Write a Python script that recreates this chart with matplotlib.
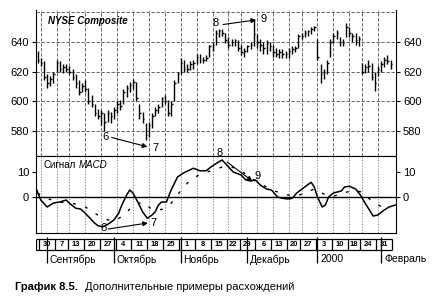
import matplotlib.pyplot as plt

plt.rcParams['font.family'] = ['Liberation Sans', 'DejaVu Sans']

# trading days, position 0 = 27 Aug 1999
high = [634, 629, 627, 618, 617, 620, 628, 627, 625, 625, 624, 622, 618, 614, 612, 614,
        609, 604, 598, 595, 594, 592, 594, 593, 596, 600, 601, 608, 611, 613, 615, 613,
        598, 593, 585, 586, 592, 596, 598, 603, 604, 601, 600, 614, 620, 629, 628, 625,
        627, 628, 632, 632, 630, 631, 638, 640, 648, 649, 649, 646, 643, 642, 642, 641,
        638, 636, 638, 640, 655, 645, 642, 640, 641, 640, 638, 636, 635, 635, 634, 636,
        637, 637, 645, 646, 648, 648, 650, 651, 642, 625, 622, 628, 642, 646, 648, 643,
        642, 653, 650, 646, 646, 644, 626, 625, 628, 626, 620, 624, 627, 630, 631, 628]
low = [626, 624, 614, 609, 610, 612, 620, 620, 619, 620, 618, 614, 609, 604, 606, 606,
       598, 596, 590, 588, 584, 580, 586, 585, 588, 592, 594, 598, 603, 606, 608, 600,
       588, 585, 574, 576, 582, 590, 592, 596, 598, 590, 590, 600, 612, 618, 620, 620,
       621, 622, 625, 626, 626, 627, 630, 634, 638, 643, 644, 639, 636, 637, 637, 634,
       631, 630, 633, 635, 637, 636, 634, 632, 632, 634, 630, 630, 629, 629, 629, 629,
       632, 633, 636, 642, 643, 644, 645, 647, 628, 612, 615, 618, 630, 639, 642, 637,
       637, 643, 643, 640, 638, 637, 618, 619, 620, 614, 607, 617, 620, 623, 625, 622]
close = [628, 626, 616, 612, 615, 618, 626, 622, 623, 622, 620, 616, 612, 606, 610, 608,
         600, 598, 592, 590, 592, 586, 592, 590, 594, 598, 597, 606, 609, 611, 613, 602,
         592, 588, 577, 584, 590, 594, 596, 602, 600, 592, 598, 612, 618, 626, 622, 622,
         625, 626, 630, 628, 628, 629, 637, 638, 646, 647, 646, 641, 638, 640, 641, 636,
         633, 634, 637, 638, 645, 640, 638, 636, 639, 637, 633, 632, 633, 632, 632, 634,
         635, 636, 644, 644, 646, 647, 649, 650, 630, 618, 620, 626, 640, 644, 646, 640,
         639, 650, 646, 644, 641, 642, 620, 623, 624, 616, 612, 622, 625, 628, 627, 625]
day = list(range(len(close)))

macd_pos = [-0.5, 1, 3, 4, 5, 7, 9, 10, 12, 13.5, 14.5, 16.5, 18, 19, 20.5, 22, 24, 25.5,
            26.5, 28, 29, 30, 31.5, 33, 34.5, 36, 37, 38, 39, 40.5, 42, 44, 46, 49, 51,
            53, 54.5, 56.5, 58, 59.5, 61.5, 64, 65.5, 67, 68.5, 70, 72, 73.5, 75.5, 76.5,
            78.5, 80, 81.5, 84, 86, 87, 88, 89.5, 90.5, 91.5, 93, 95.5, 96.5, 98, 100,
            101.5, 103, 104.5, 105.5, 107, 109, 110.5, 112.5]
macd_val = [3.5, -1.2, -4, -3.2, -2.4, -2, -1.2, -2.5, -4.5, -4.8, -5.9, -8.5, -10.5, -11.5,
            -11.9, -11, -9.2, -6.5, -3.2, 0.8, 2.8, 1.6, -2, -5.9, -8.5, -7.2, -5.9, -3.2,
            -2, -2, 2.8, 8, 9.7, 11.5, 10.5, 10.5, 12, 13.7, 14.8, 12.8, 10, 8.8, 6.8, 6.4,
            6.8, 4.8, 3.2, 2.8, 0, -0.4, -0.8, -0.6, 1.6, 4, 5.9, 4, 0, -4, -3.2, 0, 1.6,
            2.4, 4, 4.3, 3.2, 0.8, -2.5, -5.5, -7.6, -7.2, -5.2, -4, -3.2]
signal_pos = [0, 3, 6, 9, 12, 15, 18, 21, 24, 27, 30, 33, 36, 39, 42, 45, 48, 51, 54, 57,
              60, 63, 66, 69, 72, 75, 78, 81, 84, 87, 90, 93, 96, 99, 102, 105, 108, 111]
signal_val = [1.5, -0.5, -2.0, -2.2, -2.8, -4.0, -6.5, -8.8, -9.6, -7.5, -3.5, -2.0, -5.0,
              -5.0, -2.5, 2.5, 6.8, 9.0, 10.3, 11.6, 12.5, 11.0, 8.8, 6.0, 4.0, 2.2, 1.0,
              0.3, 1.5, 3.2, 1.2, 0.3, 1.5, 2.6, 2.0, -1.5, -3.8, -4.5]

week_start = [1, 6, 10, 15, 20, 25, 30, 35, 40, 45, 50, 55, 60, 64, 69, 74, 79, 83, 88,
              93, 98, 102, 107]
week_labels = ['30', '7', '13', '20', '27', '4', '11', '18', '25', '1', '8', '15', '22',
               '29', '6', '13', '20', '27', '3', '10', '18', '24', '31']
month_start = [3, 24, 45, 66, 88, 108]
month_labels = ['Сентябрь', 'Октябрь', 'Ноябрь', 'Декабрь', '2000', 'Февраль']

W, H = 448, 300


def box(l, t, r, b):
    return [l / W, 1 - b / H, (r - l) / W, (b - t) / H]


fig = plt.figure(figsize=(W / 100, H / 100), dpi=100)
ax = fig.add_axes(box(36, 10, 396, 156))
ax2 = fig.add_axes(box(36, 156, 396, 233))
ax3 = fig.add_axes(box(36, 237, 396, 266))
xlim = (-0.5, 112.7)

# price panel
ax.vlines(day, low, high, color='k', lw=1.0)
ax.hlines(close, day, [d + 0.5 for d in day], color='k', lw=1.0)
ax.set_xlim(*xlim)
ax.set_ylim(563, 661.5)
for p in [580, 600, 620, 640, 660]:
    ax.axhline(p, color='0.3', lw=0.6, ls=(0, (4, 2)), zorder=0)
for w in week_start:
    ax.axvline(w, color='0.3', lw=0.6, ls=(0, (4, 2)), zorder=0)
ax.set_yticks([580, 600, 620, 640])
ax.set_xticks([])
ax.tick_params(axis='y', left=True, right=True, labelleft=True, labelright=True,
               direction='out', length=3, labelsize=8, pad=2)
ax.spines['top'].set_visible(False)
ax.text(3.3, 654, 'NYSE Composite', fontsize=7, fontweight='bold', style='italic',
        va='center')

arrow = dict(arrowstyle='-|>', color='k', lw=0.8, mutation_scale=7, shrinkA=0, shrinkB=0)
ax.text(21.5, 576, '6', fontsize=8, ha='center', va='center')
ax.annotate('', xy=(34.5, 569.2), xytext=(23.3, 575.5), arrowprops=arrow)
ax.text(37, 568.5, '7', fontsize=8, ha='center', va='center', clip_on=False)
ax.text(56.1, 652.8, '8', fontsize=8, ha='center', va='center')
ax.annotate('', xy=(68.7, 654.8), xytext=(58.3, 651.7), arrowprops=arrow)
ax.text(71, 655.5, '9', fontsize=8, ha='center', va='center')

# MACD panel
ax2.plot(macd_pos, macd_val, color='k', lw=1.1)
ax2.plot(signal_pos, signal_val, color='k', lw=1.0, ls=(0, (2, 7)))
ax2.axhline(0, color='k', lw=1.0)
for w in week_start:
    ax2.axvline(w, color='0.4', lw=0.5, ls=(0, (2, 2)), zorder=0)
ax2.set_xlim(*xlim)
ax2.set_ylim(-14.4, 16.4)
ax2.set_yticks([0, 10])
ax2.set_xticks([])
ax2.tick_params(axis='y', left=True, right=True, labelleft=True, labelright=True,
                direction='out', length=3, labelsize=8, pad=2)
for s in ax2.spines.values():
    s.set_linewidth(0.8)
ax2.text(2.0, 12.8, 'Сигнал', fontsize=7, va='center')
ax2.text(12.8, 12.8, 'MACD', fontsize=7, style='italic', va='center')
ax2.text(20.6, -12.4, '6', fontsize=8, ha='center', va='center')
ax2.annotate('', xy=(34.7, -10.4), xytext=(22.2, -12.8), arrowprops=arrow)
ax2.text(36.5, -10.4, '7', fontsize=8, ha='center', va='center')
ax2.text(57.1, 17.4, '8', fontsize=8, ha='center', va='center', clip_on=False)
ax2.annotate('', xy=(67.5, 6.4), xytext=(59.6, 14), arrowprops=arrow)
ax2.text(69.2, 8.4, '9', fontsize=8, ha='center', va='center')

# date strip
ax3.set_xlim(*xlim)
ax3.set_ylim(29, 0)
ax3.axis('off')
ends = week_start[1:] + [week_start[-1] + 5]
edges = [week_start[0] - 0.5] + [e - 0.5 for e in ends]
ax3.hlines([2, 13], xlim[0], edges[-1], color='k', lw=0.9)
ax3.vlines([xlim[0]] + edges, 2, 13, color='k', lw=0.9)
for w, e, lab in zip(week_start, ends, week_labels):
    ax3.text((w + e) / 2 - 0.5, 7.5, lab, fontsize=5.5, fontweight='bold',
             ha='center', va='center')
ax3.vlines(month_start, 0, 26, color='k', lw=0.9)
for m, lab in zip(month_start, month_labels):
    ax3.text(m + 0.9, 22.5, lab, fontsize=7.5, ha='left', va='center')

fig.text(15 / W, 1 - 287 / H, 'График 8.5.', fontsize=8, fontweight='bold', va='center')
fig.text(85 / W, 1 - 287 / H, 'Дополнительные примеры расхождений', fontsize=8,
         va='center')

fig.savefig('out.png', dpi=100)
